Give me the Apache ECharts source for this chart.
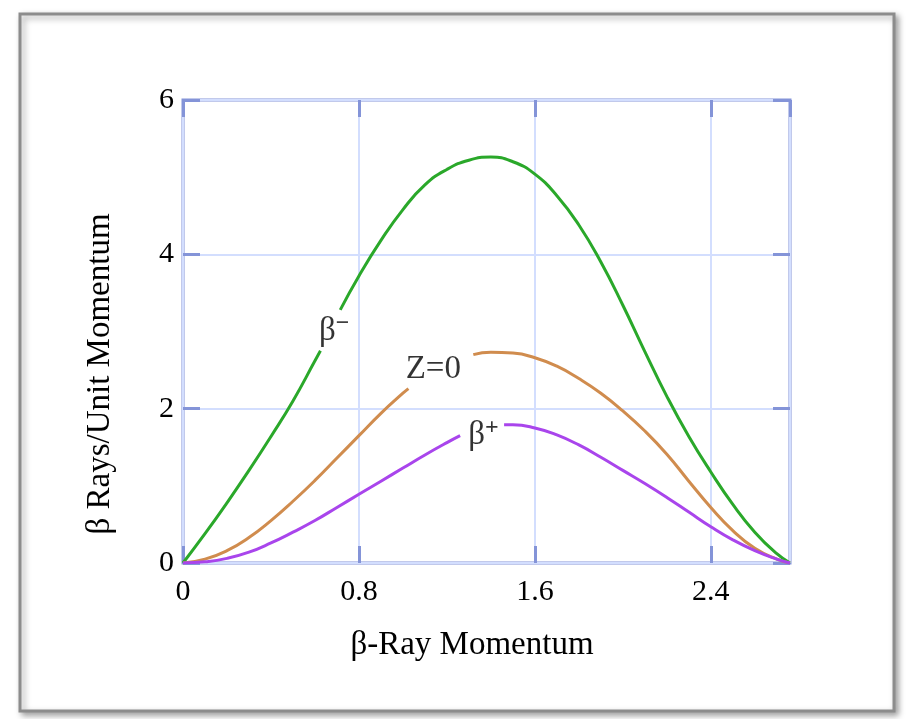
<!DOCTYPE html>
<html>
<head>
<meta charset="utf-8">
<script src="https://cdn.jsdelivr.net/npm/echarts@6/dist/echarts.min.js"></script>
<style>
html,body{margin:0;padding:0;background:#fff;}
#chart{width:911px;height:719px;}
</style>
</head>
<body>
<div id="chart"></div>
<script>
// ---- data ----
const xTicks = [0, 0.8, 1.6, 2.4];
const yTicks = [0, 2, 4, 6];
const xTitle = 'β-Ray Momentum';
const yTitle = 'β Rays/Unit Momentum';

// β− curve (split where its label sits)
const betaMinusA = [[0,0],[0.1,0.38],[0.2,0.78],[0.3,1.2],[0.4,1.64],[0.5,2.1],[0.6,2.62],[0.625,2.75]];
const betaMinusB = [[0.715,3.28],[0.8,3.72],[0.9,4.18],[1.0,4.58],[1.1,4.9],[1.2,5.1],[1.3,5.22],[1.4,5.26],[1.5,5.2],[1.6,5.04],[1.7,4.76],[1.8,4.38],[1.9,3.9],[2.0,3.34],[2.1,2.74],[2.2,2.16],[2.3,1.64],[2.4,1.18],[2.5,0.76],[2.6,0.4],[2.7,0.12],[2.76,0]];
// Z=0 curve
const zeroA = [[0,0],[0.1,0.05],[0.2,0.16],[0.3,0.33],[0.4,0.55],[0.5,0.8],[0.6,1.07],[0.7,1.36],[0.8,1.65],[0.9,1.94],[1.0,2.2],[1.025,2.26]];
const zeroB = [[1.32,2.7],[1.4,2.73],[1.5,2.72],[1.6,2.66],[1.7,2.55],[1.8,2.39],[1.9,2.2],[2.0,1.97],[2.1,1.71],[2.2,1.41],[2.3,1.06],[2.4,0.72],[2.5,0.42],[2.6,0.19],[2.7,0.05],[2.76,0]];
// β+ curve
const betaPlusA = [[0,0],[0.1,0.015],[0.2,0.06],[0.3,0.14],[0.4,0.26],[0.5,0.4],[0.6,0.55],[0.7,0.72],[0.8,0.89],[0.9,1.06],[1.0,1.23],[1.1,1.4],[1.2,1.56],[1.26,1.65]];
const betaPlusB = [[1.46,1.79],[1.5,1.79],[1.6,1.75],[1.7,1.66],[1.8,1.53],[1.9,1.37],[2.0,1.2],[2.1,1.03],[2.2,0.85],[2.3,0.66],[2.4,0.47],[2.5,0.3],[2.6,0.16],[2.7,0.05],[2.76,0]];

// curve label anchors (data coords)
const labelBetaMinus = [0.688, 3.02];
const labelZero = [1.138, 2.53];
const labelBetaPlus = [1.366, 1.68];

// ---- styling ----
const FONT = '"Liberation Serif", "DejaVu Serif", serif';
const frameBlue = '#8494d8';
const gridBlue = '#d3defe';
const cGreen = '#2aa82a';
const cOrange = '#d08c4e';
const cPurple = '#a945ec';

const chart = echarts.init(document.getElementById('chart'), null, {renderer: 'canvas'});

function seg(data, color, name) {
  return {
    type: 'line', name: name, data: data, smooth: 0.5, symbol: 'none',
    xAxisIndex: 0, yAxisIndex: 0,
    lineStyle: {color: color, width: 3}, z: 5, silent: true
  };
}
function label(coord, text) {
  return {
    type: 'scatter', data: [coord], symbolSize: 1, itemStyle: {color: 'rgba(0,0,0,0)'},
    xAxisIndex: 0, yAxisIndex: 0, silent: true, z: 6,
    label: {
      show: true, position: 'inside', formatter: text,
      rich: {
        b: {fontFamily: FONT, fontSize: 33, color: '#000', lineHeight: 36, verticalAlign: 'bottom'},
        s: {fontFamily: FONT, fontSize: 24, color: '#000', lineHeight: 36, verticalAlign: 'top', fontWeight: 'bold'}
      }
    }
  };
}

const commonX = {type: 'value', min: 0, max: 2.76, interval: 0.8};
const commonY = {type: 'value', min: 0, max: 6, interval: 2};
const tickStyle = {show: true, inside: true, length: 17, lineStyle: {color: frameBlue, width: 3}};
const noLine = {show: false, onZero: false};

const option = {
  animation: false,
  backgroundColor: '#ffffff',
  grid: {left: 183, top: 100, right: 121, bottom: 156, show: true, borderColor: frameBlue, borderWidth: 3, backgroundColor: 'transparent'},
  xAxis: [
    Object.assign({}, commonX, {
      position: 'bottom',
      axisLine: noLine,
      axisTick: tickStyle,
      splitLine: {show: true, lineStyle: {color: gridBlue, width: 2}},
      axisLabel: {show: true, showMaxLabel: false, margin: 14, fontFamily: FONT, fontSize: 30, color: '#000',
        formatter: v => (xTicks.indexOf(+v.toFixed(2)) >= 0 ? String(v) : '')}
    }),
    Object.assign({}, commonX, {
      position: 'top',
      axisLine: noLine,
      axisTick: tickStyle,
      splitLine: {show: false},
      axisLabel: {show: false}
    })
  ],
  yAxis: [
    Object.assign({}, commonY, {
      position: 'left',
      axisLine: noLine,
      axisTick: tickStyle,
      splitLine: {show: true, lineStyle: {color: gridBlue, width: 2}},
      axisLabel: {show: true, margin: 9, fontFamily: FONT, fontSize: 30, color: '#000',
        formatter: v => (yTicks.indexOf(v) >= 0 ? String(v) : '')}
    }),
    Object.assign({}, commonY, {
      position: 'right',
      axisLine: noLine,
      axisTick: tickStyle,
      splitLine: {show: false},
      axisLabel: {show: false}
    })
  ],
  graphic: [
    {type: 'rect', z: -10, silent: true,
      shape: {x: 20, y: 14, width: 874, height: 697},
      style: {fill: '#ffffff', stroke: '#8c8c8c', lineWidth: 3,
        shadowBlur: 6, shadowColor: 'rgba(0,0,0,0.35)', shadowOffsetX: 3, shadowOffsetY: 3}},
    {type: 'text', silent: true, x: 472, y: 645, z: 10,
      style: {text: xTitle, fontFamily: FONT, fontSize: 33, fill: '#000', align: 'center', verticalAlign: 'middle'}},
    {type: 'text', silent: true, x: 100, y: 374, rotation: Math.PI / 2, z: 10,
      style: {text: yTitle, fontFamily: FONT, fontSize: 33, fill: '#000', align: 'center', verticalAlign: 'middle'}}
  ],
  series: [
    seg(betaMinusA, cGreen, 'β−'), seg(betaMinusB, cGreen, 'β−'),
    seg(zeroA, cOrange, 'Z=0'), seg(zeroB, cOrange, 'Z=0'),
    seg(betaPlusA, cPurple, 'β+'), seg(betaPlusB, cPurple, 'β+'),
    label(labelBetaMinus, '{b|β}{s|−}'),
    label(labelZero, '{b|Z=0}'),
    label(labelBetaPlus, '{b|β}{s|+}')
  ]
};
chart.setOption(option);
</script>
</body>
</html>
